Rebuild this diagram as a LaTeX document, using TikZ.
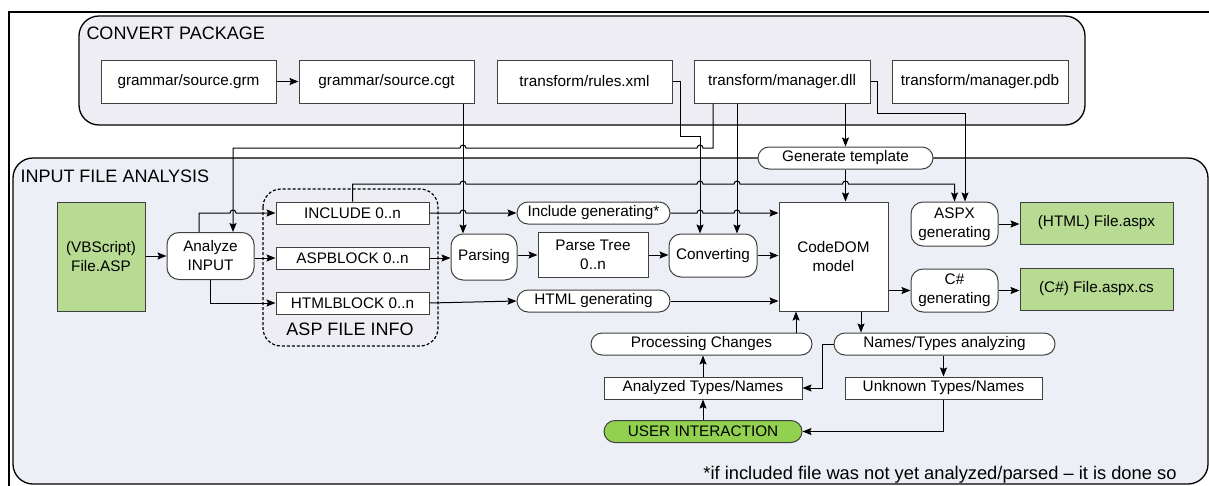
\documentclass[tikz,border=0pt]{standalone}
\usepackage{fontspec}
\setmainfont{Liberation Sans}
\usetikzlibrary{arrows.meta,positioning,calc}

\definecolor{convbg}{RGB}{238,237,243}
\definecolor{inbg}{RGB}{236,239,245}
\definecolor{filegreen}{RGB}{183,219,146}
\definecolor{usergreen}{RGB}{146,208,80}
\definecolor{boxline}{RGB}{64,64,64}

\begin{document}
\begin{tikzpicture}[x=1pt,y=-1pt,>={Stealth[length=9pt,width=7pt,inset=1.5pt]},line width=1pt,
  every node/.style={font=\fontsize{15.3}{19}\selectfont, inner sep=0pt, align=center},
  plain box/.style={draw=boxline,fill=white,minimum height=22pt},
  round box/.style={draw=boxline,fill=white,rounded corners=12pt},
  pill box/.style={draw=boxline,fill=white,rounded corners=11pt,minimum height=22pt},
  file box/.style={draw=boxline,fill=filegreen},
  panel title/.style={font=\fontsize{18}{20}\selectfont,anchor=base west},
  panel/.style={draw=black,line width=1.3pt,rounded corners=20pt},
  hop right/.style 2 args={insert path={-- ($(#1 |- #2)+(-3pt,0)$) arc[start angle=180,end angle=0,radius=3pt]}},
  hop left/.style 2 args={insert path={-- ($(#1 |- #2)+(3pt,0)$) arc[start angle=0,end angle=180,radius=3pt]}}]

  \useasboundingbox (0,0) rectangle (1209,485);
  \clip (0,0) rectangle (1209,485);

  % frame and the two panels
  \draw[line width=2pt] (9,500) -- (9,12) -- (1220,12);
  \draw[panel, fill=convbg] (79,16) rectangle (1085,125);
  \draw[panel, fill=inbg] (13,158) rectangle (1208,484);
  \node[panel title] (cptitle) at (86,39) {CONVERT PACKAGE};
  \node[panel title] (iftitle) at (20,182) {INPUT FILE ANALYSIS};
  \draw[dash pattern=on 3pt off 2pt, line width=1.2pt, rounded corners=18pt, fill=convbg] (263,189) rectangle (438,346);

  % convert package
  \node[plain box, minimum width=175pt, minimum height=43pt] (grm) at (188.5,81.5) {grammar/source.grm};
  \node[plain box, minimum width=175pt, minimum height=43pt, right=22pt of grm] (cgt) {grammar/source.cgt};
  \node[plain box, minimum width=175pt, minimum height=43pt, right=22pt of cgt] (rules) {transform/rules.xml};
  \node[plain box, minimum width=176pt, minimum height=43pt, right=21pt of rules] (dll) {transform/manager.dll};
  \node[plain box, minimum width=176pt, minimum height=43pt, right=21pt of dll] (pdb) {transform/manager.pdb};

  % input file analysis
  \node[file box, minimum width=88pt, minimum height=109pt] (vbs) at (101,256.5) {(VBScript)\\File.ASP};
  \node[round box, minimum width=87pt, minimum height=47pt] (analyze) at (210.5,256) {Analyze\\INPUT};
  \node[plain box, minimum width=153pt] (inc) at (352.5,213) {INCLUDE 0..n};
  \node[plain box, minimum width=153pt, below=22pt of inc] (aspb) {ASPBLOCK 0..n};
  \node[plain box, minimum width=153pt, below=22pt of aspb] (htmlb) {HTMLBLOCK 0..n};
  \node[anchor=base, font=\fontsize{18}{20}\selectfont] (infolabel) at (350,335) {ASP FILE INFO};

  \node[pill box, minimum width=153pt] (incgen) at (593.5,213) {Include generating*};
  \node[round box, minimum width=66pt, minimum height=46pt] (parsing) at (484,257) {Parsing};
  \node[plain box, minimum width=110pt, minimum height=45pt] (tree) at (593,255) {Parse Tree\\0..n};
  \node[round box, minimum width=88pt, minimum height=43pt] (conv) at (713,255.5) {Converting};
  \node[pill box, minimum width=153pt] (htmlgen) at (593.5,301) {HTML generating};
  \node[plain box, minimum width=109pt, minimum height=109pt] (dom) at (833.5,256.5) {CodeDOM\\model};
  \node[pill box, minimum width=175pt] (tpl) at (845.5,158) {Generate template};

  \node[round box, minimum width=87pt, minimum height=44pt] (aspxgen) at (954.5,224) {ASPX\\generating};
  \node[round box, minimum width=87pt, minimum height=43pt] (csgen) at (954.5,290.5) {C\#\\generating};
  \node[file box, minimum width=153pt, minimum height=42pt] (aspx) at (1096.5,223) {(HTML) File.aspx};
  \node[file box, minimum width=153pt, minimum height=42pt] (cs) at (1096.5,289) {(C\#) File.aspx.cs};

  \node[pill box, minimum width=221pt] (proc) at (701.5,344) {Processing Changes};
  \node[plain box, minimum width=198pt] (known) at (703,388) {Analyzed Types/Names};
  \node[pill box, minimum width=198pt, fill=usergreen] (user) at (703,431.5) {USER INTERACTION};
  \node[pill box, minimum width=221pt] (names) at (944.5,344) {Names/Types analyzing};
  \node[plain box, minimum width=197pt] (unknown) at (943.5,388) {Unknown Types/Names};
  \node[anchor=base east, font=\fontsize{18.3}{20}\selectfont] (note) at (1177,479) {*if included file was not yet analyzed/parsed – it is done so};

  % line positions
  \coordinate (vat) at (199,0);
  \coordinate (van) at (233,0);
  \coordinate (vcgt) at (463,0);
  \coordinate (vrules) at (700,0);
  \coordinate (vdll) at (713,0);
  \coordinate (vconv) at (737,0);
  \coordinate (vproc) at (796,0);
  \coordinate (vdom) at (861,0);
  \coordinate (vasp) at (965,0);
  \coordinate (bus) at (0,148);
  \coordinate (ibus) at (0,184);
  \coordinate (rbend) at (680,136);
  \coordinate (dbend) at (877,113);

  % connectors
  \draw[->] (grm) -- (cgt);
  \draw[->] (vcgt |- cgt.south) -- (vcgt |- parsing.north);
  \draw[->] (rules.east) -| (rbend) -| (vrules |- conv.north);
  \draw[->] (vdll |- dll.south) -- (vdll |- bus) [hop left={vrules}{bus}] [hop left={vcgt}{bus}] -- (van |- bus) -- (van |- analyze.north);
  \draw[->] (vconv |- dll.south) -- (vconv |- conv.north);
  \draw[->] (tpl.north |- dll.south) -- (tpl.north);
  \draw[->] (dll.east) -| (dbend) -| (vasp |- aspxgen.north);
  \draw[->] (tpl.south) -- (tpl.south |- dom.north);
  \draw[->] (inc.north) -- (inc.north |- ibus) [hop right={vcgt}{ibus}] [hop right={vrules}{ibus}] [hop right={vconv}{ibus}] [hop right={tpl}{ibus}] -| (aspxgen.north);

  \draw[->] (vbs.east |- analyze.west) -- (analyze.west);
  \draw[->] (vat |- analyze.north) -- (vat |- inc.west) [hop right={van}{inc.west}] -- (inc.west);
  \draw[->] (analyze.east |- aspb.west) -- (aspb.west);
  \draw[->] (analyze.south) |- (htmlb.west);
  \draw[->] (inc.east) [hop right={vcgt}{inc.east}] -- (incgen.west);
  \draw[->] (aspb.east) -- (aspb.east -| parsing.west);
  \draw[->] (parsing.east |- tree.west) -- (tree.west);
  \draw[->] (tree.east) -- (tree.east -| conv.west);
  \draw[->] (conv.east) -- (conv.east -| dom.west);
  \draw[->] (incgen.east) [hop right={vrules}{incgen.east}] [hop right={vconv}{incgen.east}] -- (incgen.east -| dom.west);
  \draw[->] (htmlb.east) -- (htmlgen.west);
  \draw[->] (htmlgen.east) -- (htmlgen.east -| dom.west);

  \draw[->] (dom.east |- csgen.west) -- (csgen.west);
  \draw[->] (aspxgen.east) -- (aspxgen.east -| aspx.west);
  \draw[->] (csgen.east) -- (csgen.east -| cs.west);

  \draw[->] (vproc |- proc.north) -- (vproc |- dom.south);
  \draw[->] (known.north) -- (known.north |- proc.south);
  \draw[->] (user) -- (known);
  \draw[->] (vdom |- dom.south) -- (vdom |- names.north);
  \draw[->] (names.west) -- ++(-11,0) |- (known.east);
  \draw[->] (unknown.north |- names.south) -- (unknown.north);
  \draw[->] (unknown.south) |- (user.east);
\end{tikzpicture}
\end{document}
